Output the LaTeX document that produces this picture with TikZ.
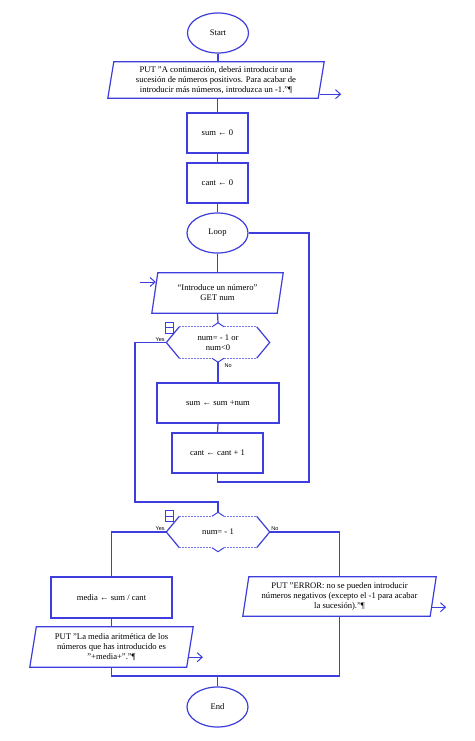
\documentclass[tikz,border=0pt]{standalone}
\usepackage{fontspec}
\setmainfont{Liberation Serif}
\newfontfamily\lblfont{Liberation Sans}
\usetikzlibrary{shapes.geometric,arrows.meta}
\definecolor{fc}{RGB}{62,62,222}
\definecolor{fcl}{RGB}{120,120,235}
\tikzset{
  ln/.style={draw=fc, line width=1.2pt},
  dots/.style={draw=fcl, line width=0.9pt, dash pattern=on 1.5pt off 1.5pt},
  term/.style={ellipse, draw=fc, line width=1.2pt, minimum width=61pt, minimum height=40pt, inner sep=0pt},
  procbox/.style={rectangle, draw=fc, line width=1.2pt, inner sep=0pt, align=center},
  iobox/.style={rectangle, draw=none, inner sep=0pt, align=center},
  decbox/.style={rectangle, draw=none, inner sep=0pt, align=center, minimum width=103pt, minimum height=31pt},
  outarr/.style={draw=fc, line width=1pt, -{Straight Barb[length=5pt,width=9pt,line width=1pt]}},
  icon/.style={rectangle, draw=fc, line width=0.9pt, minimum width=8pt, minimum height=11pt, inner sep=0pt},
  lbl/.style={font=\lblfont\fontsize{5.5}{6}\selectfont, inner sep=0.5pt}
}
\newcommand\paraframe[2]{\draw[ln] ([xshift=#2]#1.north west) -- ([xshift=#2]#1.north east) -- ([xshift=-#2]#1.south east) -- ([xshift=-#2]#1.south west) -- cycle;}
\newcommand\decframe[1]{%
  \draw[ln] ([xshift=13pt]#1.north west) -- (#1.west) -- ([xshift=13pt]#1.south west);
  \draw[ln] ([xshift=-13pt]#1.north east) -- (#1.east) -- ([xshift=-13pt]#1.south east);
  \draw[dots] ([xshift=13pt]#1.north west) -- ([xshift=-6pt]#1.north);
  \draw[dots] ([xshift=6pt]#1.north) -- ([xshift=-13pt]#1.north east);
  \draw[dots] ([xshift=13pt]#1.south west) -- ([xshift=-6pt]#1.south);
  \draw[dots] ([xshift=6pt]#1.south) -- ([xshift=-13pt]#1.south east);
  \draw[ln, line width=1pt] ([xshift=-6pt]#1.north) -- ([yshift=4pt]#1.north) -- ([xshift=6pt]#1.north);
  \draw[ln, line width=1pt] ([xshift=-6pt]#1.south) -- ([yshift=-4pt]#1.south) -- ([xshift=6pt]#1.south);
}
\begin{document}
\begin{tikzpicture}[x=1pt, y=-1pt, font=\fontsize{8.6}{10}\selectfont]
\fill[white] (0,0) rectangle (474,741);
\useasboundingbox (0,0) rectangle (474,741);

% nodes
\node[term] (start) at (218,33) {Start};
\node[iobox, minimum width=210pt, minimum height=36pt] (put1) at (216,80) {PUT "A continuación, deberá introducir una\\sucesión de números positivos. Para acabar de\\introducir más números, introduzca un -1."¶};
\paraframe{put1}{3pt}
\node[procbox, minimum width=61pt, minimum height=40pt] (sum0) at (217.5,133) {sum ← 0};
\node[procbox, minimum width=61pt, minimum height=40pt] (cant0) at (217.5,183) {cant ← 0};
\node[term] (loop) at (217.5,233) {Loop};
\node[iobox, minimum width=125pt, minimum height=40pt] (get) at (217.5,293) {“Introduce un número”\\GET num};
\paraframe{get}{3pt}
\node[decbox] (dec1) at (218,342.5) {num= - 1 or\\num<0};
\decframe{dec1}
\node[icon] (ic1) at ([xshift=-49pt,yshift=-1pt]dec1.north) {};
\draw[ln, line width=0.9pt] (ic1.west) -- (ic1.east);
\node[procbox, minimum width=122pt, minimum height=40pt] (sum1) at (218,403) {sum ← sum +num};
\node[procbox, minimum width=91pt, minimum height=40pt] (cant1) at (217.5,453) {cant ← cant + 1};
\node[decbox] (dec2) at (218,532) {num= - 1};
\decframe{dec2}
\node[icon] (ic2) at ([xshift=-49pt,yshift=0pt]dec2.north) {};
\draw[ln, line width=0.9pt] (ic2.west) -- (ic2.east);
\node[procbox, minimum width=121pt, minimum height=41pt] (media) at (111.5,597.5) {media ← sum / cant};
\node[iobox, minimum width=187pt, minimum height=39pt] (err) at (339.5,596.5) {PUT "ERROR: no se pueden introducir\\números negativos (excepto el -1 para acabar\\la sucesión)."¶};
\paraframe{err}{3pt}
\node[iobox, minimum width=156.5pt, minimum height=40pt] (put2) at (111.5,647) {PUT "La media aritmética de los\\números que has introducido es\\"+media+"."¶};
\paraframe{put2}{3.25pt}
\node[term] (end) at (217.5,707) {End};

% labels
\node[lbl, anchor=south east] (y1) at ([xshift=-1pt,yshift=0.5pt]dec1.west) {Yes};
\node[lbl, anchor=north west] (n1) at ([xshift=6pt,yshift=-5pt]dec1.south) {No};
\node[lbl, anchor=south east] (y2) at ([xshift=-1pt,yshift=0.5pt]dec2.west) {Yes};
\node[lbl, anchor=south west] (n2) at ([xshift=1pt,yshift=0.5pt]dec2.east) {No};

% coordinates
\coordinate (yb) at (135,502);
\coordinate (lr) at (309,482);
\coordinate (mg) at (217.5,676);

% connectors
\draw[ln] (start.south) -- (start.south |- put1.north);
\draw[ln] (sum0.north |- put1.south) -- (sum0.north);
\draw[ln] (sum0.south) -- (cant0.north);
\draw[ln] (cant0.south) -- (loop.north);
\draw[ln] (loop.south) -- (get.north);
\draw[ln] (get.south) -- ([yshift=4pt]dec1.north);
\draw[ln] ([yshift=-4pt]dec1.south) -- (sum1.north);
\draw[ln] (sum1.south) -- (cant1.north);
\draw[ln] (cant1.south) |- (lr) |- (loop.east);
\draw[ln] (dec1.west) -| (yb) -| ([yshift=4pt]dec2.north);
\draw[ln] (dec2.west) -| (media.north);
\draw[ln] (dec2.east) -| (err.north);
\draw[ln] (media.south) -- (put2.north);
\draw[ln] (put2.south) |- (mg);
\draw[ln] (err.south) |- (mg);
\draw[ln] (mg) -- (end.north);

% io arrows
\draw[outarr] ([xshift=-1pt,yshift=4pt]put1.south east) -- ([xshift=20pt,yshift=4pt]put1.south east);
\draw[outarr] ([xshift=-15pt,yshift=11pt]get.west) -- ([xshift=1pt,yshift=11pt]get.west);
\draw[outarr] ([xshift=-2pt,yshift=9pt]err.south east) -- ([xshift=13pt,yshift=9pt]err.south east);
\draw[outarr] ([xshift=-2pt,yshift=10pt]put2.south east) -- ([xshift=13pt,yshift=10pt]put2.south east);
\end{tikzpicture}
\end{document}
